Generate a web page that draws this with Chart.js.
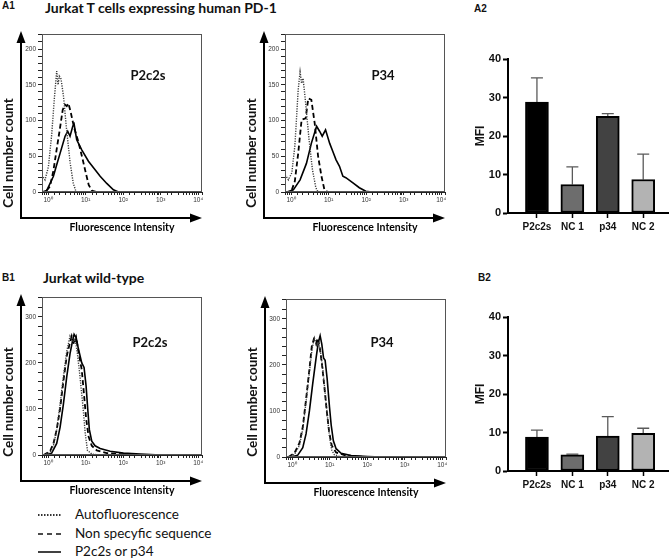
<!DOCTYPE html>
<html>
<head>
<meta charset="utf-8">
<script src="https://cdn.jsdelivr.net/npm/chart.js@4.4.1/dist/chart.umd.min.js"></script>
<style>
  body { margin: 0; background: #fff; }
  #fig { position: relative; width: 669px; height: 560px; overflow: hidden; background: #fff; font-family: Lato, "Liberation Sans", sans-serif; color: #111; }
  #fig canvas { position: absolute; }
  .t { position: absolute; white-space: nowrap; line-height: 1; transform: translateY(-50%); }
  .c { position: absolute; white-space: nowrap; line-height: 1; transform: translate(-50%, -50%); }
  .r { position: absolute; white-space: nowrap; line-height: 1; transform: translate(-50%, -50%) rotate(-90deg); font-weight: bold; font-size: 13.5px; }
  .lab { font-family: "Liberation Sans", Arial, sans-serif; font-weight: bold; font-size: 10px; }
  .ttl { font-weight: bold; font-size: 14px; }
  .pep { font-weight: bold; font-size: 13px; }
  .leg { font-size: 13.5px; }
</style>
</head>
<body>
<div id="fig">
  <div class="t lab" style="left:2px;top:6px">A1</div>
  <div class="t ttl" style="left:45px;top:8px">Jurkat T cells expressing human PD-1</div>
  <div class="t lab" style="left:474px;top:9px">A2</div>
  <div class="t lab" style="left:2px;top:278px">B1</div>
  <div class="t ttl" style="left:43px;top:278px">Jurkat wild-type</div>
  <div class="t lab" style="left:478px;top:278px">B2</div>

  <canvas id="hA1" width="205" height="206" style="left:0;top:28px"></canvas>
  <canvas id="hA2" width="205" height="206" style="left:243px;top:28px"></canvas>
  <canvas id="hB1" width="205" height="206" style="left:0;top:291px"></canvas>
  <canvas id="hB2" width="205" height="206" style="left:244px;top:293px"></canvas>
  <canvas id="barA" width="207" height="200" style="left:462px;top:45px"></canvas>
  <canvas id="barB" width="207" height="200" style="left:462px;top:303px"></canvas>

  <div class="r" style="left:9px;top:153px">Cell number count</div>
  <div class="r" style="left:252px;top:153px">Cell number count</div>
  <div class="r" style="left:9px;top:402px">Cell number count</div>
  <div class="r" style="left:253px;top:402px">Cell number count</div>

  <div class="c pep" style="left:148px;top:75px">P2c2s</div>
  <div class="c pep" style="left:383px;top:75px">P34</div>
  <div class="c pep" style="left:150px;top:342px">P2c2s</div>
  <div class="c pep" style="left:382px;top:342px">P34</div>

  <svg style="position:absolute;left:36px;top:505px" width="28" height="52">
    <line x1="2" y1="10" x2="26" y2="10" stroke="#333" stroke-width="2" stroke-dasharray="1.5,1.5"/>
    <line x1="2" y1="29" x2="25" y2="29" stroke="#111" stroke-width="1.6" stroke-dasharray="5,4"/>
    <line x1="2" y1="47" x2="25" y2="47" stroke="#111" stroke-width="1.6"/>
  </svg>
  <div class="t leg" style="left:75px;top:515px">Autofluorescence</div>
  <div class="t leg" style="left:75px;top:534px">Non specyfic sequence</div>
  <div class="t leg" style="left:75px;top:552px">P2c2s or p34</div>
</div>

<script>
// histogram curves: [fluorescence intensity, cell count]
const aLeftAuto = [[0.69,24],[0.71,22],[0.83,17],[1.02,35],[1.25,80],[1.44,125],[1.70,169],[1.85,150],[2.0,162],[2.22,158],[2.56,135],[3.15,85],[3.85,42],[4.7,12],[5.6,0],[12600,0]];
const aLeftNonspec = [[0.92,2],[1.13,8],[1.39,30],[1.70,60],[2.09,90],[2.46,115],[2.84,122],[3.15,120],[3.49,124],[4.0,112],[4.94,90],[6.45,70],[8.4,45],[10.3,25],[12.1,10],[14.6,2],[19.9,0],[12600,0]];
const aLeftPeptide = [[0.69,0],[0.92,2],[1.39,22],[1.70,38],[2.09,54],[2.84,78],[3.34,85],[3.85,78],[4.55,92],[4.94,95],[5.8,73],[7.9,59],[11.9,43],[17.9,31],[24.4,22],[36.6,12],[55,3],[75,0],[12600,0]];

const aRightAuto = [[0.69,24],[0.74,22],[0.85,17],[1.05,27],[1.26,64],[1.55,143],[1.74,168],[1.91,152],[2.09,159],[2.45,124],[3.02,73],[3.72,31],[4.57,6],[5.25,0],[12600,0]];
const aRightNonspec = [[1.05,3],[1.26,15],[1.55,54],[1.91,101],[2.45,103],[2.88,131],[3.47,129],[4.27,96],[5.25,50],[6.46,22],[7.76,3],[9.55,0],[12600,0]];
const aRightPeptide = [[0.78,0],[1.15,3],[1.74,17],[2.57,40],[3.47,68],[4.79,92],[5.75,85],[6.76,78],[8.3,87],[10.7,68],[12.9,57],[15.8,45],[19.5,36],[24,22],[28.8,20],[43.6,13],[66,6],[98,1],[141,0],[12600,0]];

const bLeftAuto = [[0.76,0],[1.13,5],[1.39,20],[1.70,55],[2.09,110],[2.56,170],[3.15,225],[3.85,258],[4.55,245],[5.25,252],[6.06,220],[7.1,170],[8.4,110],[9.7,50],[11.2,10],[14.6,2],[24.4,0],[12600,0]];
const bLeftNonspec = [[0.76,0],[1.13,8],[1.39,25],[1.70,55],[2.09,100],[2.56,160],[3.15,215],[3.85,245],[4.27,258],[4.94,240],[5.6,255],[6.45,225],[7.9,185],[9.1,130],[10.3,80],[12.0,40],[14.6,20],[19.9,10],[36.6,4],[83,2],[189,0],[12600,0]];
const bLeftPeptide = [[0.83,0],[1.25,4],[1.70,25],[2.09,60],[2.56,110],[3.15,170],[3.85,220],[4.55,250],[4.94,262],[5.6,255],[6.45,230],[7.9,200],[9.1,190],[10.3,150],[11.4,100],[12.6,55],[14.6,30],[17.9,20],[24.4,14],[45,8],[102,4],[285,2],[970,0],[12600,0]];

const bRightAuto = [[0.8,0],[1.15,5],[1.57,25],[1.93,60],[2.36,120],[2.9,185],[3.42,235],[3.94,258],[4.54,240],[5.0,250],[5.7,230],[6.6,190],[7.6,140],[8.6,95],[9.9,45],[11.4,15],[13.4,5],[20.3,0],[12600,0]];
const bRightNonspec = [[0.8,0],[1.15,8],[1.57,30],[1.93,65],[2.36,125],[2.9,190],[3.35,240],[3.78,255],[4.37,245],[4.8,258],[5.46,238],[6.3,200],[7.3,150],[8.4,100],[9.7,55],[11.4,25],[14.9,10],[24.9,4],[56,1],[104,0],[12600,0]];
const bRightPeptide = [[0.94,0],[1.42,4],[1.93,20],[2.36,50],[2.9,100],[3.56,160],[4.37,215],[5.0,248],[5.6,263],[6.2,245],[6.9,215],[7.6,210],[8.6,170],[9.9,110],[11.0,70],[12.6,35],[14.9,18],[20.3,8],[37.5,3],[104,1],[237,0],[12600,0]];

// bar charts
const categories = ['P2c2s', 'NC 1', 'p34', 'NC 2'];
const barColors = ['#000000', '#6d6d6d', '#424242', '#b3b3b3'];
const mfiA = [28.8, 7.4, 25.1, 8.7];
const errA = [6.3, 4.6, 0.7, 6.6];
const mfiB = [8.8, 4.2, 9.1, 9.8];
const errB = [1.8, 0.2, 5.0, 1.3];

const sup = ['\u2070', '\u00b9', '\u00b2', '\u00b3', '\u2074'];

Chart.defaults.font.family = '"Liberation Sans", Arial, sans-serif';
Chart.defaults.color = '#222';

const lineStyles = [
  {color: '#3a3a3a', width: 1.4, dash: [1.2, 1.3]},
  {color: '#000', width: 1.8, dash: [5, 3]},
  {color: '#000', width: 1.6, dash: []}
];

// frame around plot and the big arrow axes
const frameArrows = {
  id: 'frameArrows',
  afterDraw(chart) {
    const {ctx, chartArea: a} = chart;
    const ox = a.left - 21, oy = a.bottom + 26;
    ctx.save();
    ctx.strokeStyle = '#555';
    ctx.lineWidth = 1;
    ctx.strokeRect(a.left + 0.5, a.top + 0.5, a.right - a.left - 1, a.bottom - a.top - 1);
    ctx.strokeStyle = '#000';
    ctx.fillStyle = '#000';
    ctx.lineWidth = 2;
    ctx.beginPath();
    ctx.moveTo(ox, oy);
    ctx.lineTo(ox, a.top + 6);
    ctx.moveTo(ox - 1, oy);
    ctx.lineTo(a.right - 8, oy);
    ctx.stroke();
    ctx.beginPath();
    ctx.moveTo(ox, a.top - 3);
    ctx.lineTo(ox - 4.5, a.top + 9);
    ctx.lineTo(ox + 4.5, a.top + 9);
    ctx.fill();
    ctx.beginPath();
    ctx.moveTo(a.right, oy);
    ctx.lineTo(a.right - 12, oy - 4.5);
    ctx.lineTo(a.right - 12, oy + 4.5);
    ctx.fill();
    ctx.restore();
  }
};

function histChart(id, curves, yMax, yStep, yLabelEvery) {
  new Chart(document.getElementById(id), {
    type: 'scatter',
    data: {
      datasets: curves.map((pts, i) => ({
        data: pts.map(p => ({x: p[0], y: p[1]})),
        showLine: true,
        pointRadius: 0,
        borderColor: lineStyles[i].color,
        borderWidth: lineStyles[i].width,
        borderDash: lineStyles[i].dash,
        tension: 0
      }))
    },
    options: {
      responsive: false,
      animation: false,
      layout: {padding: {top: 6, right: 3, left: 0, bottom: 0}},
      plugins: {legend: {display: false}, tooltip: {enabled: false}},
      scales: {
        x: {
          type: 'logarithmic',
          min: 0.69,
          max: 12600,
          afterFit: s => { s.height = 42; },
          border: {display: true, color: '#222', width: 1},
          grid: {drawOnChartArea: false, tickLength: 3, color: '#222'},
          ticks: {
            autoSkip: false, maxRotation: 0, padding: 1,
            font: {size: 6.5}, color: '#333',
            callback: v => {
              const l = Math.log10(v);
              const r = Math.round(l);
              return Math.abs(l - r) < 1e-6 && r >= 0 && r <= 4 ? '10' + sup[r] : '';
            }
          },
          title: {display: true, text: 'Fluorescence Intensity', color: '#000', padding: 0,
                  font: {family: 'Lato', weight: 'bold', size: 10.5}}
        },
        y: {
          min: 0,
          max: yMax,
          afterFit: s => { s.width = 42; },
          border: {display: true, color: '#222', width: 1},
          grid: {drawOnChartArea: false, tickLength: 4, color: '#222'},
          ticks: {
            stepSize: yStep, autoSkip: false, padding: 2,
            font: {size: 6.5}, color: '#333',
            callback: v => (v % yLabelEvery === 0 ? v : '')
          }
        }
      }
    },
    plugins: [frameArrows]
  });
}

histChart('hA1', [aLeftAuto, aLeftNonspec, aLeftPeptide], 221, 10, 50);
histChart('hA2', [aRightAuto, aRightNonspec, aRightPeptide], 221, 10, 50);
histChart('hB1', [bLeftAuto, bLeftNonspec, bLeftPeptide], 343, 20, 100);
histChart('hB2', [bRightAuto, bRightNonspec, bRightPeptide], 343, 20, 100);

// upper error bars, drawn under the bars
const errorBars = {
  id: 'errorBars',
  beforeDatasetsDraw(chart, args, opts) {
    const {ctx, scales: {x, y}} = chart;
    const ds = chart.data.datasets[0];
    ctx.save();
    ctx.strokeStyle = '#5a5a5a';
    ctx.lineWidth = 1.3;
    ds.data.forEach((d, i) => {
      const px = x.getPixelForValue(d.x);
      const top = y.getPixelForValue(d.y + opts.errors[i]);
      const base = y.getPixelForValue(d.y);
      ctx.beginPath();
      ctx.moveTo(px, base);
      ctx.lineTo(px, top);
      ctx.moveTo(px - 6, top);
      ctx.lineTo(px + 6, top);
      ctx.stroke();
    });
    ctx.restore();
  }
};

function barChart(id, means, errs) {
  new Chart(document.getElementById(id), {
    type: 'bar',
    data: {
      datasets: [{
        data: means.map((m, i) => ({x: i + 1, y: m})),
        backgroundColor: barColors,
        borderColor: '#000',
        borderWidth: 2,
        borderSkipped: false,
        barThickness: 23
      }]
    },
    options: {
      responsive: false,
      animation: false,
      layout: {padding: {top: 14, right: 1, left: 0, bottom: 0}},
      plugins: {legend: {display: false}, tooltip: {enabled: false}, errorBars: {errors: errs}},
      scales: {
        x: {
          type: 'linear',
          min: 0.183,
          max: 4.7,
          offset: false,
          afterFit: s => { s.height = 32; s.paddingLeft = 0; s.paddingRight = 0; },
          border: {display: true, color: '#000', width: 2},
          grid: {offset: false, drawOnChartArea: false, tickLength: 5, tickWidth: 1.5, tickColor: '#000'},
          ticks: {
            stepSize: 1, includeBounds: false, autoSkip: false, maxRotation: 0, padding: 3,
            font: {size: 10, weight: 'bold'}, color: '#111',
            callback: v => categories[v - 1] ?? ''
          }
        },
        y: {
          min: 0,
          max: 40,
          afterFit: s => { s.width = 46; },
          border: {display: true, color: '#000', width: 2},
          grid: {drawOnChartArea: false, tickLength: 5, tickWidth: 2, tickColor: '#000'},
          ticks: {stepSize: 10, padding: 2, font: {size: 11, weight: 'bold'}, color: '#111'},
          title: {display: true, text: 'MFI', color: '#111', padding: {top: 11, bottom: 0},
                  font: {size: 12, weight: 'bold'}}
        }
      }
    },
    plugins: [errorBars]
  });
}

barChart('barA', mfiA, errA);
barChart('barB', mfiB, errB);
</script>
</body>
</html>
